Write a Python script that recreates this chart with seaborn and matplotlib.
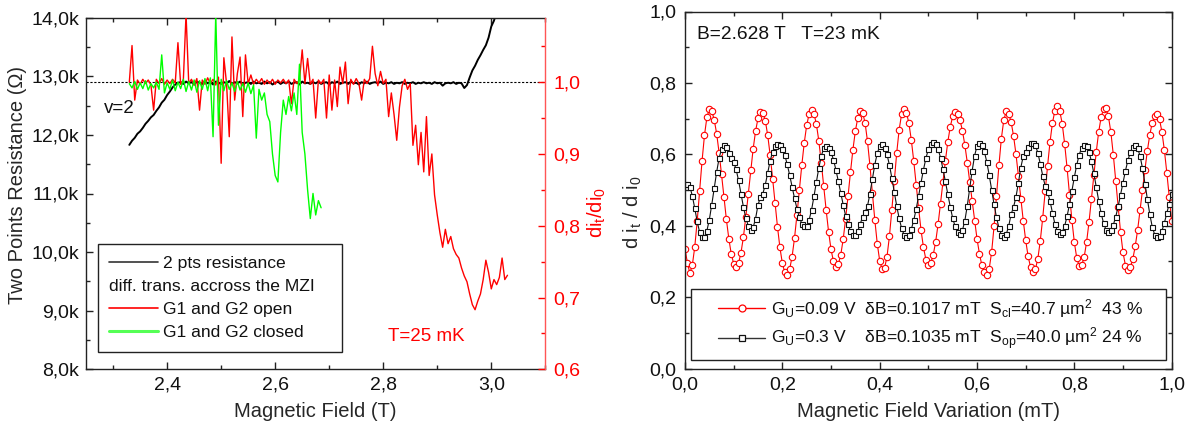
import numpy as np
import matplotlib
matplotlib.use("Agg")
import matplotlib.pyplot as plt
import seaborn as sns
import matplotlib.text as mtext
from matplotlib.lines import Line2D
from matplotlib.legend_handler import HandlerBase, HandlerLine2D
from matplotlib.ticker import MultipleLocator, FuncFormatter

# ---------------- data: left panel (field sweep) ----------------
field_start = 2.330
field_step = 0.005

resistance_k = [  # 2 pts resistance (kOhm), from 2.330 T
    11.83, 11.90, 11.95, 12.02, 12.06, 12.12, 12.19, 12.24, 12.30, 12.34,
    12.41, 12.47, 12.55, 12.60, 12.68, 12.74, 12.81, 12.86, 12.89,
    12.90, 12.87, 12.91, 12.88, 12.90, 12.86, 12.91, 12.89, 12.87, 12.92,
    12.88, 12.90, 12.86, 12.91, 12.89, 12.87, 12.90, 12.88, 12.92, 12.87,
    12.90, 12.88, 12.91, 12.86, 12.89, 12.90, 12.87, 12.91, 12.88, 12.89,
    12.87, 12.91, 12.88, 12.90, 12.86, 12.89, 12.91, 12.87, 12.90, 12.88,
    12.91, 12.87, 12.89, 12.90, 12.86, 12.91, 12.88, 12.89, 12.87, 12.90,
    12.88, 12.91, 12.87, 12.89, 12.90, 12.86, 12.90, 12.88, 12.91, 12.87,
    12.89, 12.90, 12.87, 12.91, 12.88, 12.89, 12.86, 12.90, 12.88, 12.91,
    12.87, 12.89, 12.90, 12.88, 12.91, 12.87, 12.89, 12.88, 12.90, 12.87,
    12.89, 12.88, 12.90, 12.87, 12.89, 12.88, 12.90, 12.87, 12.89, 12.88,
    12.90, 12.88, 12.89, 12.87, 12.90, 12.88, 12.89, 12.84, 12.88, 12.89,
    12.88, 12.90, 12.87, 12.89, 12.88, 12.80,
    12.85, 12.98, 13.10, 13.18, 13.28, 13.36, 13.45, 13.53, 13.66, 13.85,
    13.95, 14.10,
]

trans_open = [  # G1 and G2 open, di_t/di_0, from 2.330 T
    1.000, 1.051, 0.975, 1.003, 0.997, 1.004, 0.998, 1.003, 0.996, 0.961,
    1.004, 0.998, 1.005, 0.997, 1.003, 0.998, 1.004, 0.999, 1.055, 0.997,
    1.003, 1.095, 0.998, 1.004, 0.996, 1.005, 0.961, 1.003, 0.997, 1.006,
    0.998, 1.004, 0.996, 1.007, 0.887, 1.034, 0.998, 0.924, 1.063, 0.975,
    1.012, 1.035, 0.952, 1.038, 0.998, 1.010, 0.997, 1.004, 0.999, 1.005,
    0.997, 1.003, 0.998, 1.004, 0.997, 1.003, 0.999, 1.004, 0.998, 1.003,
    0.970, 1.004, 0.998, 1.003, 1.045, 0.998, 1.033, 0.997, 1.004, 0.950,
    1.003, 0.998, 1.004, 0.950, 1.010, 0.961, 1.003, 0.966, 1.021, 0.998,
    1.028, 0.970, 1.004, 0.997, 1.005, 0.998, 0.975, 1.004, 0.998, 1.005,
    1.050, 1.012, 0.995, 1.015, 0.998, 1.004, 0.952, 0.985, 0.955, 0.919,
    0.965, 0.995, 1.004, 0.990, 0.998, 0.912, 0.940, 0.885, 0.930, 0.875,
    0.952, 0.870, 0.900, 0.843, 0.815, 0.790, 0.770, 0.795, 0.775, 0.785,
    0.768, 0.760, 0.755, 0.741, 0.730, 0.722, 0.705, 0.690, 0.683, 0.695,
    0.705, 0.725, 0.752, 0.735, 0.712, 0.725, 0.718, 0.728, 0.755, 0.725,
    0.731,
]

trans_closed = [  # G1 and G2 closed, di_t/di_0, from 2.330 T
    0.998, 0.992, 1.001, 0.990, 0.999, 0.991, 1.002, 0.989, 0.998, 0.992,
    1.000, 0.990, 1.038, 0.985, 0.999, 0.990, 1.003, 0.988, 1.000, 0.991,
    1.004, 0.987, 1.001, 0.989, 1.003, 0.986, 1.002, 0.990, 1.005, 0.988,
    1.006, 0.924, 1.095, 0.940, 1.004, 0.988, 1.002, 0.990, 0.999, 0.987,
    1.001, 0.989, 0.998, 0.986, 0.999, 0.984, 0.996, 0.922, 0.990, 0.975,
    0.985, 0.955, 0.945, 0.900, 0.870, 0.861, 0.930, 0.975, 0.955, 0.980,
    0.960, 0.985, 0.955, 1.025, 0.930, 0.900, 0.850, 0.810, 0.845, 0.815,
    0.835, 0.825,
]

# ---------------- data: right panel (oscillations) ----------------
dB_step = 0.005
osc_open_gate = [  # G_U = 0.09 V (red circles)
    0.336, 0.295, 0.267, 0.289, 0.340, 0.412, 0.497, 0.581, 0.653, 0.704,
    0.726, 0.721, 0.697, 0.658, 0.605, 0.544, 0.480, 0.418, 0.364, 0.321,
    0.294, 0.285, 0.295, 0.324, 0.368, 0.425, 0.489, 0.555, 0.615, 0.665,
    0.701, 0.718, 0.716, 0.694, 0.653, 0.597, 0.532, 0.463, 0.397, 0.339,
    0.295, 0.269, 0.262, 0.278, 0.313, 0.365, 0.430, 0.500, 0.570, 0.632,
    0.681, 0.713, 0.724, 0.714, 0.684, 0.637, 0.577, 0.511, 0.444, 0.383,
    0.334, 0.300, 0.285, 0.292, 0.318, 0.362, 0.419, 0.483, 0.550, 0.613,
    0.665, 0.702, 0.720, 0.717, 0.688, 0.636, 0.568, 0.491, 0.416, 0.350,
    0.302, 0.278, 0.281, 0.313, 0.370, 0.445, 0.526, 0.604, 0.669, 0.712,
    0.727, 0.717, 0.687, 0.640, 0.581, 0.515, 0.449, 0.387, 0.339, 0.305,
    0.290, 0.296, 0.318, 0.355, 0.404, 0.462, 0.522, 0.582, 0.635, 0.677,
    0.706, 0.718, 0.714, 0.696, 0.666, 0.626, 0.577, 0.523, 0.468, 0.413,
    0.363, 0.321, 0.289, 0.269, 0.262, 0.279, 0.326, 0.398, 0.482, 0.569,
    0.644, 0.696, 0.720, 0.714, 0.691, 0.652, 0.601, 0.540, 0.476, 0.414,
    0.359, 0.314, 0.284, 0.271, 0.278, 0.308, 0.358, 0.422, 0.496, 0.568,
    0.635, 0.688, 0.722, 0.734, 0.721, 0.686, 0.630, 0.562, 0.487, 0.415,
    0.353, 0.309, 0.287, 0.289, 0.311, 0.353, 0.409, 0.474, 0.542, 0.607,
    0.663, 0.704, 0.727, 0.729, 0.706, 0.662, 0.599, 0.526, 0.451, 0.381,
    0.325, 0.288, 0.276, 0.284, 0.306, 0.342, 0.388, 0.443, 0.500, 0.557,
    0.610, 0.655, 0.688, 0.708, 0.712, 0.698, 0.662, 0.611, 0.548, 0.479,
    0.412,
]
osc_closed_gate = [  # G_U = 0.3 V (black squares)
    0.516, 0.518, 0.509, 0.484, 0.449, 0.412, 0.382, 0.367, 0.368, 0.386,
    0.417, 0.459, 0.505, 0.550, 0.589, 0.615, 0.627, 0.620, 0.604, 0.590,
    0.578, 0.558, 0.527, 0.490, 0.453, 0.421, 0.400, 0.389, 0.395, 0.420,
    0.458, 0.480, 0.490, 0.515, 0.549, 0.582, 0.607, 0.622, 0.628, 0.626,
    0.616, 0.598, 0.572, 0.542, 0.509, 0.477, 0.448, 0.423, 0.406, 0.398,
    0.400, 0.416, 0.444, 0.482, 0.523, 0.562, 0.595, 0.617, 0.624, 0.619,
    0.606, 0.585, 0.557, 0.525, 0.492, 0.459, 0.428, 0.404, 0.385, 0.375,
    0.374, 0.385, 0.405, 0.425, 0.438, 0.455, 0.490, 0.530, 0.571, 0.603,
    0.622, 0.628, 0.619, 0.600, 0.570, 0.534, 0.495, 0.455, 0.421, 0.393,
    0.375, 0.369, 0.374, 0.390, 0.415, 0.447, 0.483, 0.521, 0.557, 0.589,
    0.614, 0.630, 0.635, 0.630, 0.614, 0.591, 0.559, 0.524, 0.488, 0.453,
    0.421, 0.398, 0.382, 0.377, 0.387, 0.414, 0.456, 0.505, 0.554, 0.596,
    0.623, 0.633, 0.627, 0.608, 0.579, 0.542, 0.501, 0.460, 0.423, 0.394,
    0.375, 0.369, 0.376, 0.398, 0.432, 0.452, 0.480, 0.520, 0.563, 0.595,
    0.606, 0.620, 0.631, 0.633, 0.625, 0.604, 0.573, 0.540, 0.512, 0.494,
    0.469, 0.436, 0.405, 0.385, 0.376, 0.382, 0.399, 0.426, 0.460, 0.498,
    0.536, 0.571, 0.599, 0.618, 0.627, 0.623, 0.607, 0.581, 0.547, 0.509,
    0.470, 0.435, 0.407, 0.389, 0.383, 0.388, 0.402, 0.425, 0.454, 0.487,
    0.521, 0.554, 0.583, 0.606, 0.620, 0.625, 0.617, 0.595, 0.561, 0.518,
    0.474, 0.432, 0.397, 0.375, 0.367, 0.372, 0.386, 0.408, 0.435, 0.462,
    0.490,
]

legend_left = ["2 pts resistance", "diff. trans. accross the MZI",
               "G1 and G2 open", "G1 and G2 closed"]
legend_right = [
    r"G$_\mathrm{U}$=0.09 V  δB=0.1017 mT  S$_\mathrm{cl}$=40.7 µm$^\mathrm{2}$  43 %",
    r"G$_\mathrm{U}$=0.3 V    δB=0.1035 mT  S$_\mathrm{op}$=40.0 µm$^\mathrm{2}$ 24 %",
]

# sampling grids (x positions of the samples)
x_res = np.round(field_start + field_step * np.arange(len(resistance_k)), 3)
x_open = np.round(field_start + field_step * np.arange(len(trans_open)), 3)
x_closed = np.round(field_start + field_step * np.arange(len(trans_closed)), 3)
x_dB = np.round(dB_step * np.arange(len(osc_open_gate)), 3)

# ---------------- style ----------------
sns.set_style("ticks")
plt.rcParams['font.family'] = ['Liberation Sans', 'DejaVu Sans']
plt.rcParams['mathtext.fontset'] = 'custom'
plt.rcParams['mathtext.rm'] = 'Liberation Sans'
plt.rcParams['mathtext.it'] = 'Liberation Sans:italic'
plt.rcParams['mathtext.bf'] = 'Liberation Sans:bold'
plt.rcParams['axes.linewidth'] = 1.0

W, H = 1195, 432
fig = plt.figure(figsize=(W / 100, H / 100), dpi=100)
axL = fig.add_axes([86.1 / W, 1 - 369.3 / H, 459.2 / W, 351.6 / H])
axR = fig.add_axes([685 / W, 1 - 368.5 / H, 486.7 / W, 357 / H])

TICK_FS = 14
LABEL_FS = 14.5
spine_col = '#222222'

def comma_fmt(fmt, suffix=""):
    return FuncFormatter(lambda v, p: (fmt.format(v)).replace('.', ',') + suffix)

# ---------------- left panel ----------------
axL.axhline(12.9, color='black', lw=0.8, ls=(0, (2, 1.5)), zorder=1)
sns.lineplot(x=x_res, y=resistance_k, ax=axL, color='black', linewidth=1.4,
             estimator=None, sort=False, legend=False, zorder=2)
axL.set_xlim(2.25, 3.1)
axL.set_ylim(8.0, 14.0)

ax2 = axL.twinx()
sns.lineplot(x=x_open, y=trans_open, ax=ax2, color='#ff0000', linewidth=1.0,
             estimator=None, sort=False, legend=False)
sns.lineplot(x=x_closed, y=trans_closed, ax=ax2, color='#00ff00', linewidth=1.0,
             estimator=None, sort=False, legend=False)
ax2.set_ylim(0.6, 0.6 + 6.0 / 12.25)
ax2.set_xlim(2.25, 3.1)

axL.xaxis.set_major_locator(MultipleLocator(0.2))
axL.xaxis.set_minor_locator(MultipleLocator(0.1))
axL.yaxis.set_major_locator(MultipleLocator(1.0))
axL.yaxis.set_minor_locator(MultipleLocator(0.5))
axL.xaxis.set_major_formatter(comma_fmt("{:.1f}"))
axL.yaxis.set_major_formatter(comma_fmt("{:.1f}", "k"))
ax2.yaxis.set_major_locator(MultipleLocator(0.1))
ax2.yaxis.set_minor_locator(MultipleLocator(0.05))
ax2.yaxis.set_major_formatter(comma_fmt("{:.1f}"))

axL.tick_params(axis='both', which='both', direction='in', top=True, right=False,
                labelsize=TICK_FS, pad=5, color=spine_col, labelcolor='#111111')
axL.tick_params(which='major', length=5, width=1)
axL.tick_params(which='minor', length=3, width=1)
ax2.tick_params(axis='y', which='both', direction='in', colors='#ff0000',
                labelsize=TICK_FS, pad=6)
ax2.tick_params(which='major', length=5, width=1)
ax2.tick_params(which='minor', length=3, width=1)
for s in ['left', 'top', 'bottom']:
    axL.spines[s].set_color(spine_col)
axL.spines['right'].set_visible(False)
ax2.spines['right'].set_color('#ff5555')
for s in ['left', 'top', 'bottom']:
    ax2.spines[s].set_visible(False)

axL.set_xlabel("Magnetic Field (T)", fontsize=LABEL_FS, labelpad=6)
axL.set_ylabel("Two Points Resistance (Ω)", fontsize=LABEL_FS, labelpad=3)
ax2.set_ylabel(r"di$_\mathrm{t}$/di$_\mathrm{0}$", fontsize=LABEL_FS,
               color='#ff0000', labelpad=4)
axL.yaxis.label.set_y(0.524)
ax2.yaxis.label.set_y(0.447)

axL.text(0.0727, 0.742, "v=2", transform=axL.transAxes, fontsize=13.5,
         ha='center', va='center', color='#111111')
axL.text(0.740, 0.092, "T=25 mK", transform=axL.transAxes, fontsize=13.5,
         ha='center', va='center', color='#ff0000')


class TextOnlyHandler(HandlerBase):
    def legend_artist(self, legend, orig_handle, fontsize, handlebox):
        t = mtext.Text(0, 0, orig_handle.get_text(), fontproperties=legend.prop,
                       va='baseline', ha='left', color='#111111')
        handlebox.add_artist(t)
        return t


hL = [Line2D([], [], color='#333333', lw=1.2),
      mtext.Text(text=legend_left[1]),
      Line2D([], [], color='#ff0000', lw=1.2),
      Line2D([], [], color='#55ff55', lw=2.2)]
legL = ax2.legend(hL, [legend_left[0], "", legend_left[2], legend_left[3]],
                  handler_map={mtext.Text: TextOnlyHandler()},
                  loc='lower left', bbox_to_anchor=(0.0253, 0.050, 0.533, 0.3),
                  mode='expand', borderaxespad=0, fontsize=12.6, handlelength=2.8,
                  handletextpad=0.3, borderpad=0.65, labelspacing=0.45,
                  fancybox=False, framealpha=1, edgecolor='#222222')
legL.get_frame().set_linewidth(1.0)
for t in legL.get_texts():
    t.set_color('#111111')

# ---------------- right panel ----------------
sns.lineplot(x=x_dB, y=osc_open_gate, ax=axR, color='#ff0000', linewidth=0.8,
             marker='o', markersize=4.6, markerfacecolor='white',
             markeredgecolor='#ff0000', markeredgewidth=0.8,
             estimator=None, sort=False, legend=False)
sns.lineplot(x=x_dB, y=osc_closed_gate, ax=axR, color='#111111', linewidth=0.8,
             marker='s', markersize=3.6, markerfacecolor='white',
             markeredgecolor='#111111', markeredgewidth=0.8,
             estimator=None, sort=False, legend=False)
axR.set_xlim(0.0, 1.0)
axR.set_ylim(0.0, 1.0)
axR.xaxis.set_major_locator(MultipleLocator(0.2))
axR.xaxis.set_minor_locator(MultipleLocator(0.1))
axR.yaxis.set_major_locator(MultipleLocator(0.2))
axR.yaxis.set_minor_locator(MultipleLocator(0.1))
axR.xaxis.set_major_formatter(comma_fmt("{:.1f}"))
axR.yaxis.set_major_formatter(comma_fmt("{:.1f}"))
axR.tick_params(axis='both', which='both', direction='in', top=True, right=True,
                labelsize=TICK_FS, pad=6, color=spine_col, labelcolor='#111111')
axR.tick_params(which='major', length=5, width=1)
axR.tick_params(which='minor', length=3, width=1)
for s in axR.spines.values():
    s.set_color(spine_col)
axR.set_xlabel("Magnetic Field Variation (mT)", fontsize=LABEL_FS, labelpad=6)
axR.set_ylabel(r"d i$_\mathrm{t}$ / d i$_\mathrm{0}$", fontsize=LABEL_FS, labelpad=4)
axR.yaxis.label.set_y(0.438)

axR.text(0.0247, 0.9356, "B=2.628 T   T=23 mK", transform=axR.transAxes,
         fontsize=13.8, ha='left', va='center', color='#111111')

hR = [Line2D([], [], color='#ff0000', lw=1.0, marker='o', markersize=5,
             markerfacecolor='white', markeredgecolor='#ff0000', markeredgewidth=0.9),
      Line2D([], [], color='#333333', lw=1.0, marker='s', markersize=4,
             markerfacecolor='white', markeredgecolor='#111111', markeredgewidth=0.9)]
legR = axR.legend(hR, legend_right, loc='lower left',
                  bbox_to_anchor=(0.0123, 0.0238, 0.977, 0.2), mode='expand',
                  borderaxespad=0, fontsize=12.6, handlelength=3.8, handletextpad=0.3,
                  borderpad=0.45, labelspacing=0.35, numpoints=1,
                  handler_map={Line2D: HandlerLine2D(numpoints=1, xpad=1.1)},
                  fancybox=False, framealpha=1, edgecolor='#222222')
legR.get_frame().set_linewidth(1.0)
for t in legR.get_texts():
    t.set_color('#111111')

fig.savefig("out.png", dpi=100)
